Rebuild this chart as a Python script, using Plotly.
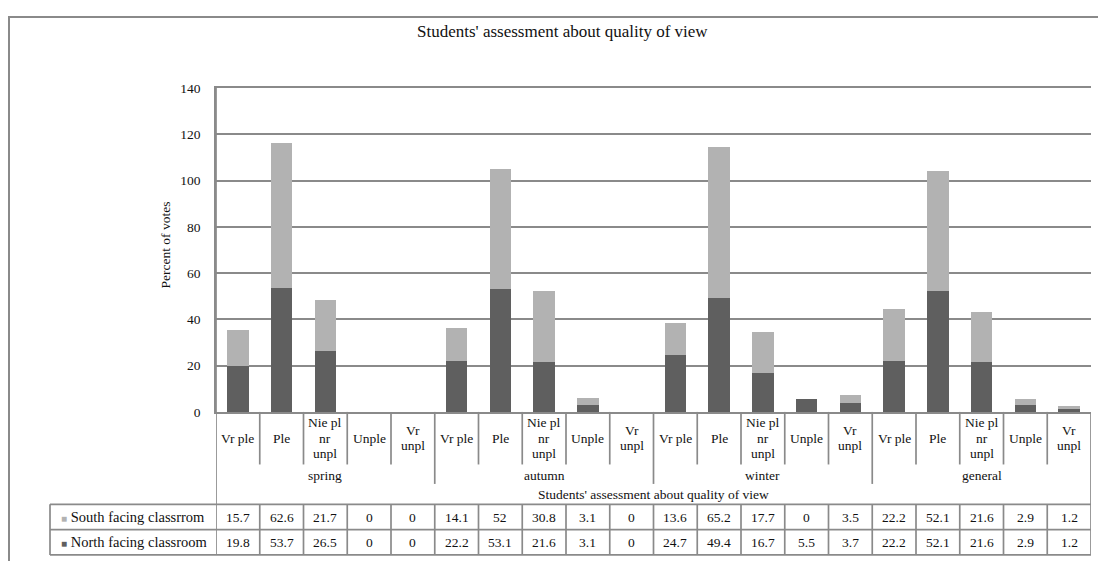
import plotly.graph_objects as go

# ---------------- data ----------------
seasons = ["spring", "autumn", "winter", "general"]
answers = [["Vr ple"], ["Ple"], ["Nie pl", "nr", "unpl"], ["Unple"], ["Vr", "unpl"]]
south = [15.7, 62.6, 21.7, 0, 0,
         14.1, 52, 30.8, 3.1, 0,
         13.6, 65.2, 17.7, 0, 3.5,
         22.2, 52.1, 21.6, 2.9, 1.2]
north = [19.8, 53.7, 26.5, 0, 0,
         22.2, 53.1, 21.6, 3.1, 0,
         24.7, 49.4, 16.7, 5.5, 3.7,
         22.2, 52.1, 21.6, 2.9, 1.2]
series_names = ["South facing classrrom", "North facing classroom"]
title_text = "Students' assessment about quality of view"
axis_group_title = "Students' assessment about quality of view"
y_title = "Percent of votes"

# ---------------- styling ----------------
OX, OY = 8, 8            # page body margin
FW, FH = 1090, 553       # figure size so that page fits the window
FONT = "Liberation Serif"
DARK = "#5f5f5f"
LIGHT = "#b2b2b2"
LINE = "#8a8a8a"
LW = 1.7
TXT = "#111"

def PX(px):
    return (px - OX) / FW

def PY(py):
    return 1 - (py - OY) / FH

n = len(south)
xs = list(range(n))

fig = go.Figure()
fig.add_trace(go.Bar(x=xs, y=north, name=series_names[1],
                     marker=dict(color=DARK, line=dict(width=0)), width=0.49))
fig.add_trace(go.Bar(x=xs, y=south, name=series_names[0],
                     marker=dict(color=LIGHT, line=dict(width=0)), width=0.49))

PLOT_L, PLOT_R, PLOT_T, PLOT_B = 216, 1091, 83, 416

fig.update_layout(
    width=FW, height=FH,
    margin=dict(l=0, r=0, t=0, b=0),
    barmode="stack",
    showlegend=False,
    plot_bgcolor="white",
    paper_bgcolor="white",
    font=dict(family=FONT, size=13, color=TXT),
    xaxis=dict(domain=[PX(PLOT_L), PX(PLOT_R)], range=[-0.5, n - 0.5],
               showticklabels=False, showgrid=False, zeroline=False,
               showline=True, mirror=True, linecolor=LINE, linewidth=LW, ticks=""),
    yaxis=dict(domain=[PY(PLOT_B), PY(PLOT_T)], range=[0, 140], dtick=20,
               showgrid=True, gridcolor=LINE, gridwidth=LW, zeroline=False,
               showline=True, linecolor=LINE, linewidth=LW, ticks="",
               ticklabelstandoff=11, tickfont=dict(family=FONT, size=13.5, color=TXT)),
)

shapes = []
annotations = []

# outer frame
shapes.append(dict(type="rect", xref="paper", yref="paper",
                   x0=PX(9), x1=PX(1130), y0=PY(590), y1=PY(10),
                   line=dict(color=LINE, width=2)))

# category separators
for b in range(1, n):
    bottom = 490 if b % 5 == 0 else 470
    shapes.append(dict(type="line", xref="x", yref="paper", x0=b - 0.5, x1=b - 0.5,
                       y0=PY(PLOT_B), y1=PY(bottom), line=dict(color=LINE, width=LW)))
shapes.append(dict(type="line", xref="x", yref="paper", x0=-0.5, x1=-0.5,
                   y0=PY(PLOT_T), y1=PY(563), line=dict(color=LINE, width=LW)))
shapes.append(dict(type="line", xref="x", yref="paper", x0=n - 0.5, x1=n - 0.5,
                   y0=PY(PLOT_B), y1=PY(563), line=dict(color=LINE, width=LW)))

# data table
TABLE_L = 50
rows_y = [511, 537, 563]
for ry in rows_y:
    shapes.append(dict(type="line", xref="paper", yref="paper", x0=PX(TABLE_L), x1=PX(PLOT_R),
                       y0=PY(ry), y1=PY(ry), line=dict(color=LINE, width=LW)))
shapes.append(dict(type="line", xref="paper", yref="paper", x0=PX(TABLE_L), x1=PX(TABLE_L),
                   y0=PY(rows_y[0]), y1=PY(rows_y[-1]), line=dict(color=LINE, width=LW)))
for b in range(1, n):
    shapes.append(dict(type="line", xref="x", yref="paper", x0=b - 0.5, x1=b - 0.5,
                       y0=PY(rows_y[0]), y1=PY(rows_y[-1]), line=dict(color=LINE, width=LW)))

# category labels (one annotation per line, centred in the label band)
LABEL_C, LINE_H = 443, 16
for i in xs:
    lines = answers[i % 5]
    k = len(lines)
    for j, t in enumerate(lines):
        cy = LABEL_C + (j - (k - 1) / 2) * LINE_H
        annotations.append(dict(x=i, y=PY(cy), xref="x", yref="paper", text=t,
                                showarrow=False, xanchor="center", yanchor="middle",
                                font=dict(family=FONT, size=13.5, color=TXT)))
for s, name in enumerate(seasons):
    annotations.append(dict(x=s * 5 + 2, y=PY(481), xref="x", yref="paper", text=name,
                            showarrow=False, xanchor="center", yanchor="middle",
                            font=dict(family=FONT, size=13.5, color=TXT)))
annotations.append(dict(x=(n - 1) / 2, y=PY(501), xref="x", yref="paper", text=axis_group_title,
                        showarrow=False, xanchor="center", yanchor="middle",
                        font=dict(family=FONT, size=13.5, color=TXT)))

# table values
def fmt(v):
    return f"{v:g}"

for row, (vals, col) in enumerate([(south, LIGHT), (north, DARK)]):
    cy = (rows_y[row] + rows_y[row + 1]) / 2
    for i in xs:
        annotations.append(dict(x=i, y=PY(cy), xref="x", yref="paper", text=fmt(vals[i]),
                                showarrow=False, xanchor="center", yanchor="middle",
                                font=dict(family=FONT, size=13.5, color=TXT)))
    annotations.append(dict(x=PX(59), y=PY(cy), xref="paper", yref="paper",
                            text=f"<span style='color:{col}; font-size:10px'>■</span> {series_names[row]}",
                            showarrow=False, xanchor="left", yanchor="middle",
                            font=dict(family=FONT, size=14.5, color=TXT)))

# title and y-axis title
annotations.append(dict(x=PX(563), y=PY(25), xref="paper", yref="paper", text=title_text,
                        showarrow=False, xanchor="center", yanchor="middle",
                        font=dict(family=FONT, size=17, color=TXT)))
annotations.append(dict(x=PX(166), y=PY(245), xref="paper", yref="paper", text=y_title,
                        showarrow=False, xanchor="center", yanchor="middle", textangle=-90,
                        font=dict(family=FONT, size=13.5, color=TXT)))

fig.update_layout(shapes=shapes, annotations=annotations)
fig.write_html("out.html")
